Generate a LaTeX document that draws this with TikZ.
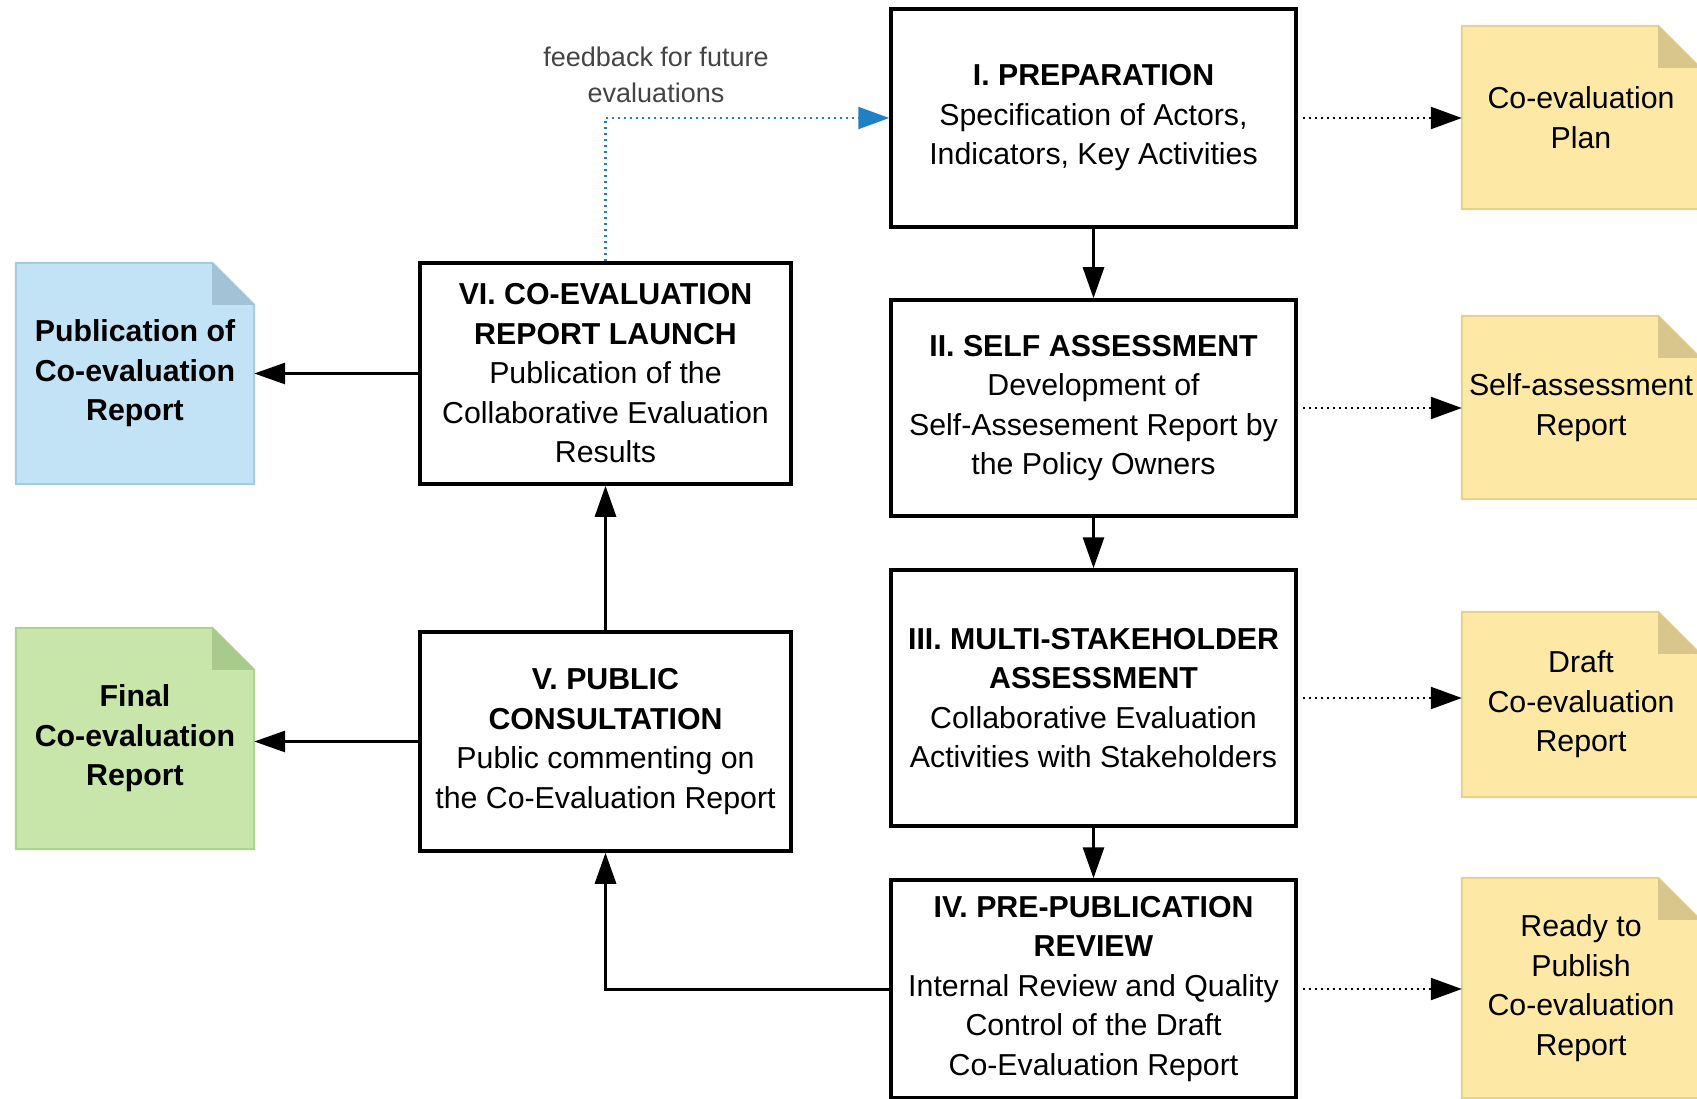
\documentclass[tikz,border=0pt]{standalone}
\usepackage{fontspec}
\setmainfont{Liberation Sans}
\usetikzlibrary{arrows.meta,backgrounds}
\definecolor{yfill}{HTML}{FDE9A5}
\definecolor{yline}{HTML}{E6D28F}
\definecolor{yfold}{HTML}{D9C68B}
\definecolor{bfill}{HTML}{C2E2F5}
\definecolor{bline}{HTML}{A8CAE0}
\definecolor{bfold}{HTML}{A4C2D6}
\definecolor{gfill}{HTML}{C8E5AA}
\definecolor{gline}{HTML}{AED292}
\definecolor{gfold}{HTML}{A8CB8B}
\definecolor{fbblue}{HTML}{1F80C4}
\definecolor{fbtext}{HTML}{444444}
\newcommand\docfold[4]{%
  \fill[#2] (#1.north west) -- ([xshift=-42pt]#1.north east) -- ([yshift=-42pt]#1.north east) -- (#1.south east) -- (#1.south west) -- cycle;
  \draw[#3,line width=2pt] (#1.north west) -- ([xshift=-42pt]#1.north east) -- ([yshift=-42pt]#1.north east) -- (#1.south east) -- (#1.south west) -- cycle;
  \fill[#4] ([xshift=-42pt]#1.north east) -- ([xshift=-42pt,yshift=-42pt]#1.north east) -- ([yshift=-42pt]#1.north east) -- cycle;
}
\tikzset{
  stage/.style={draw, line width=3.5pt, align=center, inner sep=0pt, font=\fontsize{30.3}{39.5}\selectfont},
  doc/.style={align=center, inner sep=0pt, minimum width=238pt, font=\fontsize{30.3}{39.5}\selectfont},
  arr/.style={line width=3pt, -{Triangle[length=31pt,width=21pt]}},
  dots/.style={line width=2.2pt, dash pattern=on 2pt off 4pt, -{Triangle[length=31pt,width=22pt]}, shorten <=5pt},
  fb/.style={line width=2.2pt, fbblue, dash pattern=on 2pt off 4pt, -{Triangle[length=31pt,width=22pt]}}
}
\begin{document}
\begin{tikzpicture}[x=1pt,y=-1pt]
\useasboundingbox (0,0) rectangle (1697,1099);
\clip (0,0) rectangle (1697,1099);
% stages
\node[stage, minimum width=405pt, minimum height=218pt] (I) at (1093.5,118)
  {\textbf{I. PREPARATION}\\Specification of Actors,\\Indicators, Key Activities};
\node[stage, minimum width=405pt, minimum height=216pt] (II) at (1093.5,408)
  {\textbf{II. SELF ASSESSMENT}\\Development of\\Self-Assesement Report by\\the Policy Owners};
\node[stage, minimum width=405pt, minimum height=256pt] (III) at (1093.5,698)
  {\textbf{III. MULTI-STAKEHOLDER}\\\textbf{ASSESSMENT}\\Collaborative Evaluation\\Activities with Stakeholders};
\node[stage, minimum width=405pt, minimum height=218pt] (IV) at (1093.5,989)
  {\textbf{IV. PRE-PUBLICATION}\\\textbf{REVIEW}\\Internal Review and Quality\\Control of the Draft\\Co-Evaluation Report};
\node[stage, minimum width=371pt, minimum height=221pt] (VI) at (605.5,373.5)
  {\textbf{VI. CO-EVALUATION}\\\textbf{REPORT LAUNCH}\\Publication of the\\Collaborative Evaluation\\Results};
\node[stage, minimum width=371pt, minimum height=219pt] (V) at (605.5,741.5)
  {\textbf{V. PUBLIC}\\\textbf{CONSULTATION}\\Public commenting on\\the Co-Evaluation Report};
% documents
\node[doc, minimum height=221pt] (pub) at (135,373.5)
  {\textbf{Publication of}\\\textbf{Co-evaluation}\\\textbf{Report}};
\node[doc, minimum height=221pt] (fin) at (135,738.5)
  {\textbf{Final}\\\textbf{Co-evaluation}\\\textbf{Report}};
\node[doc, minimum height=183pt] (plan) at (1581,117.5)
  {Co-evaluation\\Plan};
\node[doc, minimum height=183pt] (self) at (1581,407.5)
  {Self-assessment\\Report};
\node[doc, minimum height=185pt] (draft) at (1581,704.5)
  {Draft\\Co-evaluation\\Report};
\node[doc, minimum height=220pt] (ready) at (1581,988)
  {Ready to\\Publish\\Co-evaluation\\Report};
\begin{scope}[on background layer]
\docfold{pub}{bfill}{bline}{bfold}
\docfold{fin}{gfill}{gline}{gfold}
\docfold{plan}{yfill}{yline}{yfold}
\docfold{self}{yfill}{yline}{yfold}
\docfold{draft}{yfill}{yline}{yfold}
\docfold{ready}{yfill}{yline}{yfold}
\end{scope}
% label
\node[align=center, text=fbtext, font=\fontsize{27}{36}\selectfont] (fbl) at (656,75)
  {feedback for future\\evaluations};
% connectors
\draw[arr] (I.south) -- (II.north);
\draw[arr] (II.south) -- (III.north);
\draw[arr] (III.south) -- (IV.north);
\draw[arr] (IV.west) -| (V.south);
\draw[arr] (V.north) -- (VI.south);
\draw[arr] (VI.west) -- (VI.west -| pub.east);
\draw[arr] (V.west) -- (V.west -| fin.east);
\draw[dots] (I.east) -- (I.east -| plan.west);
\draw[dots] (II.east) -- (II.east -| self.west);
\draw[dots] (III.east) -- (III.east -| draft.west);
\draw[dots] (IV.east) -- (IV.east -| ready.west);
\draw[fb] (VI.north) |- (I.west);
\end{tikzpicture}
\end{document}
